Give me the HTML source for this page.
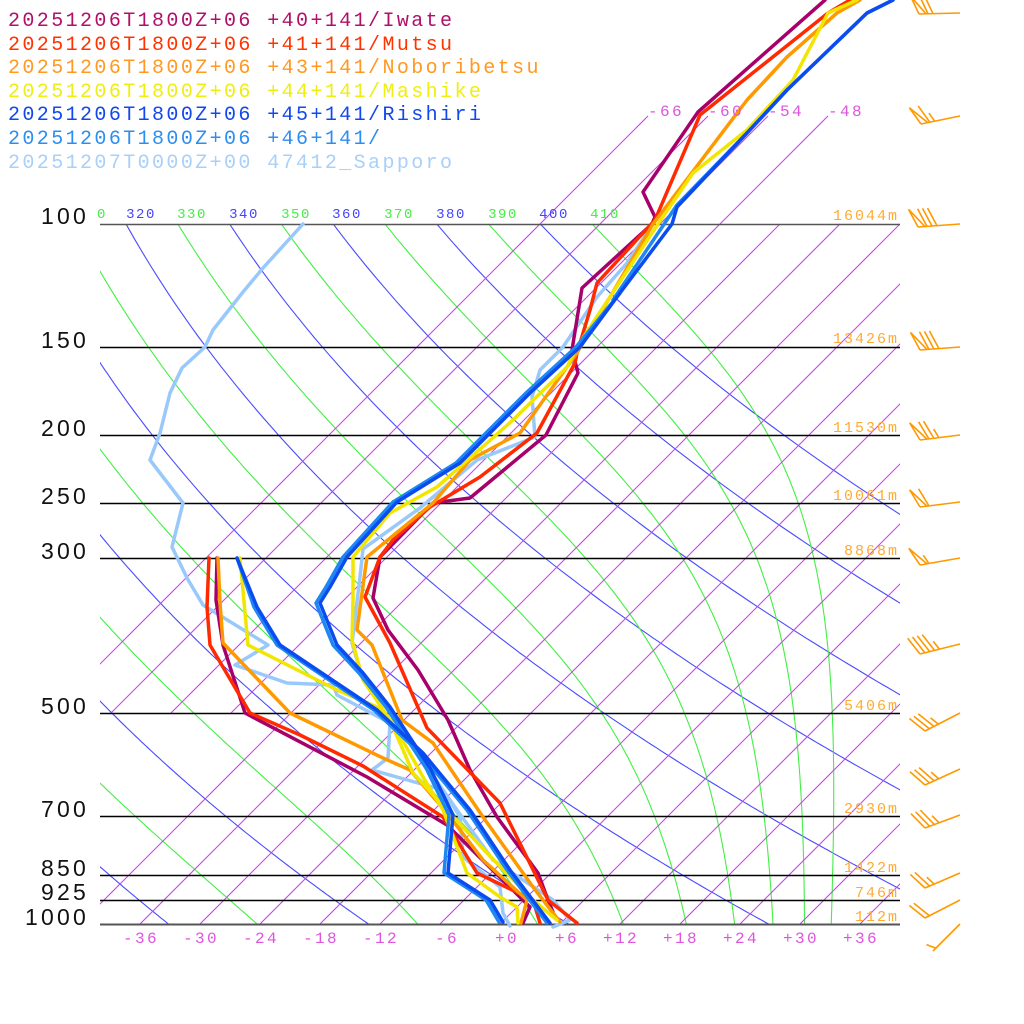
<!DOCTYPE html>
<html><head><meta charset="utf-8"><style>
html,body{margin:0;padding:0;background:#fff;}
svg{display:block;}
text{font-family:"Liberation Mono",monospace;}
text.pl{font-family:"Liberation Sans",sans-serif;}
</style></head><body>
<svg id="s" width="1024" height="1024" viewBox="0 0 1024 1024" xmlns="http://www.w3.org/2000/svg">
<defs>
<clipPath id="cp"><rect x="100" y="224" width="800" height="700"/></clipPath>
<clipPath id="ci"><rect x="100" y="100" width="800" height="824"/></clipPath>
</defs>
<g id="bg"></g>
<g id="prof" fill="none" stroke-width="3.5" stroke-linejoin="round" stroke-linecap="round"></g>
<g id="barbs" fill="none" stroke="#ff9900" stroke-width="1.6"></g>
<g font-size="20" letter-spacing="2.4">
<text x="8" y="26" fill="#b0106a">20251206T1800Z+06 +40+141/Iwate</text>
<text x="8" y="50" fill="#ff3300">20251206T1800Z+06 +41+141/Mutsu</text>
<text x="8" y="73" fill="#ff9922">20251206T1800Z+06 +43+141/Noboribetsu</text>
<text x="8" y="97" fill="#eeee11">20251206T1800Z+06 +44+141/Mashike</text>
<text x="8" y="120" fill="#1148ee">20251206T1800Z+06 +45+141/Rishiri</text>
<text x="8" y="144" fill="#2d8ef0">20251206T1800Z+06 +46+141/</text>
<text x="8" y="168" fill="#a8d0fa">20251207T0000Z+00 47412_Sapporo</text>
</g>
<g font-size="23" letter-spacing="3.2" text-anchor="end" fill="#111">
<text class="pl" x="89" y="224">100</text>
<text class="pl" x="89" y="348">150</text>
<text class="pl" x="89" y="436">200</text>
<text class="pl" x="89" y="504">250</text>
<text class="pl" x="89" y="559">300</text>
<text class="pl" x="89" y="714">500</text>
<text class="pl" x="89" y="817">700</text>
<text class="pl" x="89" y="876">850</text>
<text class="pl" x="89" y="900">925</text>
<text class="pl" x="89" y="925">1000</text>
</g>
<g font-size="15" letter-spacing="2" text-anchor="end" fill="#ffaa33">
<text x="899" y="220">16044m</text>
<text x="899" y="343">13426m</text>
<text x="899" y="432">11530m</text>
<text x="899" y="500">10061m</text>
<text x="899" y="555">8868m</text>
<text x="899" y="710">5406m</text>
<text x="899" y="813">2930m</text>
<text x="899" y="872">1422m</text>
<text x="899" y="897">746m</text>
<text x="899" y="921">112m</text>
</g>
<g font-size="16" letter-spacing="2.4" text-anchor="middle" fill="#dd55dd">
<text x="141" y="943">-36</text><text x="201" y="943">-30</text><text x="261" y="943">-24</text>
<text x="321" y="943">-18</text><text x="381" y="943">-12</text><text x="447" y="943">-6</text>
<text x="507" y="943">+0</text><text x="567" y="943">+6</text><text x="621" y="943">+12</text>
<text x="681" y="943">+18</text><text x="741" y="943">+24</text><text x="801" y="943">+30</text>
<text x="861" y="943">+36</text>
<text x="666" y="116">-66</text><text x="726" y="116">-60</text><text x="786" y="116">-54</text><text x="846" y="116">-48</text>
</g>
<g font-size="14" letter-spacing="1.5" text-anchor="middle">
<text x="102" y="218" fill="#44ee44">0</text>
<text x="141" y="218" fill="#4444ff">320</text>
<text x="192" y="218" fill="#44ee44">330</text>
<text x="244" y="218" fill="#4444ff">340</text>
<text x="296" y="218" fill="#44ee44">350</text>
<text x="347" y="218" fill="#4444ff">360</text>
<text x="399" y="218" fill="#44ee44">370</text>
<text x="451" y="218" fill="#4444ff">380</text>
<text x="503" y="218" fill="#44ee44">390</text>
<text x="554" y="218" fill="#4444ff">400</text>
<text x="605" y="218" fill="#44ee44">410</text>
</g>
</svg>
<script>
(function(){
var NS="http://www.w3.org/2000/svg";
function el(parent,tag,attrs){var e=document.createElementNS(NS,tag);for(var k in attrs)e.setAttribute(k,attrs[k]);parent.appendChild(e);return e;}
function X(T,y){return 500+10*T+(924-y);}
function Y(p){return 924-304*Math.log(1000/p);}
var bg=document.getElementById('bg');
var gA=el(bg,'g',{'clip-path':'url(#cp)',fill:'none','stroke-width':'1.1'});
for(var th=200;th<=400;th+=20){
  var pts=[];
  for(var p=100;p<=1000;p+=5){var T=th*Math.pow(p/1000,0.2857)-273.15;var y=Y(p);pts.push(X(T,y).toFixed(1)+','+y.toFixed(1));}
  el(gA,'polyline',{points:pts.join(' '),stroke:'#4a4aff'});
}
function es(Tc){return 6.112*Math.exp(17.67*Tc/(Tc+243.5));}
for(var te=190;te<=410;te+=20){
  var T=te*Math.pow(0.1,0.2857);var p=100;var pts=[];
  var Rd=287,cp=1004,Lv=2.5e6,eps=0.622;
  while(p<=1000.01){
    var y=Y(p);pts.push(X(T-273.15,y).toFixed(1)+','+y.toFixed(1));
    for(var k=0;k<10;k++){
      var e=es(T-273.15);var rs=eps*e/Math.max(p-e,1);
      var d=(Rd*T+Lv*rs)/(p*(cp+Lv*Lv*rs*eps/(Rd*T*T)));
      T+=d*0.5;p+=0.5;
    }
  }
  el(gA,'polyline',{points:pts.join(' '),stroke:'#44ee44'});
}
var gI=el(bg,'g',{'clip-path':'url(#ci)',stroke:'#cc44ee','stroke-width':'1.1'});
for(var T=-66;T<=48;T+=6){
  var yb=T>=-42?924:713;var yt=(T<=-48)?116:224;
  el(gI,'line',{x1:X(T,yb),y1:yb,x2:X(T,yt),y2:yt});
}
[100,150,200,250,300,500,700,850,925,1000].forEach(function(p){
  var y=Math.round(Y(p))+0.5;
  var c=(p==100||p==1000)?'#555':'#000';
  el(bg,'line',{x1:100,y1:y,x2:900,y2:y,stroke:c,'stroke-width':(p==1000?2:1.4)});
});
var prof=document.getElementById('prof');
function line(a,c){el(prof,'polyline',{points:a.map(function(q){return q[0]+','+q[1];}).join(' '),stroke:c});}
function sh(a,dx,from){return a.map(function(q){return [q[1]>from?q[0]+dx:q[0],q[1]];});}
var S={
iwT:[[825,0],[698,112],[643,192],[655,217],[652,224],[582,288],[572,350],[578,373],[546,435],[470,498],[433,503],[380,557],[373,598],[388,630],[418,670],[448,720],[470,770],[497,817],[538,873],[548,900],[553,912]],
iwD:[[217,558],[216,600],[223,645],[245,713],[367,777],[447,825],[530,907],[523,923]],
muT:[[850,0],[828,13],[700,115],[655,220],[597,283],[590,310],[577,353],[575,363],[537,433],[480,477],[430,507],[393,540],[380,557],[365,597],[390,643],[427,728],[500,803],[548,900],[577,923]],
muD:[[209,558],[207,607],[210,645],[250,713],[300,735],[363,766],[443,817],[477,873],[533,900],[540,923]],
noT:[[860,0],[837,13],[787,57],[747,100],[653,224],[577,353],[567,367],[520,433],[470,460],[433,503],[367,557],[362,593],[357,630],[372,645],[402,720],[433,743],[483,817],[533,887],[560,922]],
noD:[[218,558],[220,603],[223,643],[290,713],[383,758],[410,770],[447,813],[483,860],[527,900],[521,923]],
maT:[[857,0],[828,13],[793,80],[747,130],[693,173],[658,224],[577,347],[567,367],[513,420],[437,487],[390,513],[353,557],[353,600],[352,640],[363,680],[390,720],[413,773],[447,810],[487,853],[533,900],[557,920]],
maD:[[240,558],[248,645],[337,690],[377,707],[393,723],[423,777],[443,810],[467,873],[500,897],[517,907],[518,923]],
riT:[[893,0],[867,13],[787,90],[747,133],[677,207],[672,224],[620,293],[580,347],[530,393],[460,463],[397,502],[347,557],[330,587],[320,603],[337,645],[363,673],[390,707],[430,768],[453,815],[448,873],[490,900],[503,922]],
riD:[[237,558],[257,607],[280,645],[377,710],[423,753],[470,810],[510,870],[550,923]],
saD:[[303,224],[263,268],[243,292],[213,330],[205,347],[182,368],[170,393],[160,433],[150,460],[183,503],[172,547],[187,578],[203,605],[268,645],[235,665],[287,683],[333,685],[337,695],[390,723],[388,758],[372,770],[443,790],[460,817],[463,857],[500,887],[503,913],[510,926]],
saT:[[653,224],[627,263],[597,297],[563,347],[540,370],[532,397],[535,437],[477,460],[420,508],[363,549],[360,577],[352,643],[362,677],[390,707],[410,743],[457,810],[493,860],[553,900],[570,920],[553,927]]
};
line(S.saD,'#99c8fa');line(S.saT,'#99c8fa');
line(S.iwT,'#a8006a');line(S.iwD,'#a8006a');
line(S.muT,'#ff2a00');line(S.muD,'#ff2a00');
line(S.noT,'#ff9900');line(S.noD,'#ff9900');
line(S.maT,'#f2e600');line(S.maD,'#f2e600');
var dT=S.riT.slice();dT[4]=[677,205];dT[5]=[613,300];
line(sh(dT,-4,300),'#1e88f0');line(sh(S.riD,-3,560),'#1e88f0');
line(S.riT,'#0a4cf0');line(S.riD,'#0a4cf0');
var gb=document.getElementById('barbs');
var B=[[919,14,960,13,'PFF'],[921,124,960,116,'PFH'],[918,227,960,224,'PFFF'],[920,350,960,347,'PFFF'],
[920,440,960,435,'PFFH'],[920,507,960,502,'PF'],[920,565,960,558,'PH'],[920,654,960,644,'FFFFH'],
[925,731,960,713,'FFFH'],[925,785,960,769,'FFFH'],[925,828,960,815,'FFFH'],[925,888,960,873,'FFH'],
[925,918,960,900,'FF'],[933,951,960,924,'H']];
B.forEach(function(b){
  var dx=b[2]-b[0],dy=b[3]-b[1],L=Math.sqrt(dx*dx+dy*dy),ux=dx/L,uy=dy/L;
  var nx=uy,ny=-ux;var c=Math.cos(0.42),s=Math.sin(0.42);
  var vx=nx*c-ux*s,vy=ny*c-uy*s;
  el(gb,'line',{x1:b[0],y1:b[1],x2:b[2],y2:b[3]});
  var t=0;
  for(var i=0;i<b[4].length;i++){
    var ch=b[4][i];var px=b[0]+ux*t,py=b[1]+uy*t;
    if(ch=='P'){var qx=b[0]+ux*(t+7),qy=b[1]+uy*(t+7);
      el(gb,'polyline',{points:px+','+py+' '+(px+vx*20)+','+(py+vy*20)+' '+qx+','+qy});t+=9;}
    else if(ch=='F'){el(gb,'line',{x1:px,y1:py,x2:px+vx*20,y2:py+vy*20});t+=5;}
    else {var hp=(b[4].length==1)?t+4:t;px=b[0]+ux*hp;py=b[1]+uy*hp;el(gb,'line',{x1:px,y1:py,x2:px+vx*10,y2:py+vy*10});t+=5;}
  }
});
})();
</script>
</body></html>
